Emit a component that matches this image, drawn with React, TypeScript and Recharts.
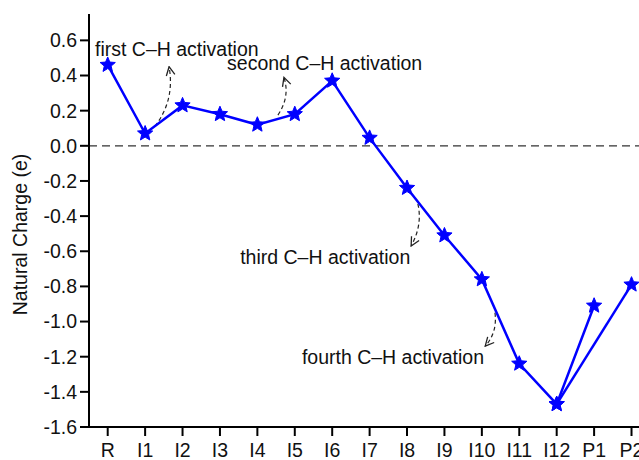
import { CartesianGrid, Customized, Line, LineChart, ReferenceLine, XAxis, YAxis } from 'recharts';

const steps = ['R', 'I1', 'I2', 'I3', 'I4', 'I5', 'I6', 'I7', 'I8', 'I9', 'I10', 'I11', 'I12', 'P1', 'P2'];
// main pathway R -> I12 -> P1
const mainCharge = [0.46, 0.07, 0.23, 0.18, 0.12, 0.18, 0.37, 0.045, -0.24, -0.51, -0.76, -1.24, -1.47, -0.91];
// branch I12 -> P2
const branchSteps = ['I12', 'P2'];
const branchCharge = [-1.47, -0.79];
const yTicks = [-1.6, -1.4, -1.2, -1.0, -0.8, -0.6, -0.4, -0.2, 0, 0.2, 0.4, 0.6];

const annotations = [
  { text: 'first C\u2013H activation', x: -0.34, y: 0.55 },
  { text: 'second C\u2013H activation', x: 3.19, y: 0.47 },
  { text: 'third C\u2013H activation', x: 3.54, y: -0.63 },
  { text: 'fourth C\u2013H activation', x: 5.19, y: -1.2 },
];
// dashed curved arrows: start, control, tip (data units)
const arrows = [
  [[1.26, 0.11], [1.8, 0.26], [1.64, 0.45]],
  [[4.55, 0.175], [4.88, 0.28], [4.71, 0.39]],
  [[8.29, -0.33], [8.42, -0.45], [8.11, -0.57]],
  [[10.35, -0.95], [10.42, -1.06], [10.09, -1.14]],
];

const mainData = mainCharge.map((v, i) => ({ x: i, y: v }));
const branchData = branchSteps.map((s, i) => ({ x: steps.indexOf(s), y: branchCharge[i] }));

const W = 639;
const H = 460;
const margin = { top: 14, right: 0, bottom: 3, left: 0 };
const yAxisWidth = 89;
const xAxisHeight = 30;
const xDomain: [number, number] = [-0.5, 14.2];
const yDomain: [number, number] = [-1.6, 0.75];
const font = '"Liberation Sans", Arial, sans-serif';
const fontSize = 19.5;

const plotLeft = margin.left + yAxisWidth;
const plotRight = W - margin.right;
const plotTop = margin.top;
const plotBottom = H - margin.bottom - xAxisHeight;
const px = (x: number) => plotLeft + ((x - xDomain[0]) / (xDomain[1] - xDomain[0])) * (plotRight - plotLeft);
const py = (y: number) => plotTop + ((yDomain[1] - y) / (yDomain[1] - yDomain[0])) * (plotBottom - plotTop);

function Star(props: any) {
  const { cx, cy, index } = props;
  if (cx == null || cy == null) return <g key={index} />;
  const outer = 8;
  const inner = 3.6;
  const pts: string[] = [];
  for (let k = 0; k < 10; k++) {
    const r = k % 2 === 0 ? outer : inner;
    const a = -Math.PI / 2 + (k * Math.PI) / 5;
    pts.push(`${cx + r * Math.cos(a)},${cy + r * Math.sin(a)}`);
  }
  return <polygon key={index} points={pts.join(' ')} fill="#0000ff" stroke="#0000ff" strokeWidth={1} />;
}

function Annotations() {
  const labelY = (plotTop + plotBottom) / 2 + 14;
  return (
    <g>
      <defs>
        <marker id="openArrow" viewBox="0 0 10 10" refX="9" refY="5" markerWidth="9" markerHeight="9" orient="auto">
          <path d="M1,1 L9,5 L1,9" fill="none" stroke="#222" strokeWidth={1.2} />
        </marker>
      </defs>
      {arrows.map(([s, c, t], i) => (
        <path
          key={i}
          d={`M${px(s[0])},${py(s[1])} Q${px(c[0])},${py(c[1])} ${px(t[0])},${py(t[1])}`}
          fill="none"
          stroke="#222"
          strokeWidth={1.2}
          strokeDasharray="4 3"
          markerEnd="url(#openArrow)"
        />
      ))}
      {annotations.map((a) => (
        <text
          key={a.text}
          x={px(a.x)}
          y={py(a.y)}
          dominantBaseline="central"
          fontFamily={font}
          fontSize={fontSize}
          fill="#111"
        >
          {a.text}
        </text>
      ))}
      <text
        x={20}
        y={labelY}
        transform={`rotate(-90 20 ${labelY})`}
        textAnchor="middle"
        dominantBaseline="central"
        fontFamily={font}
        fontSize={fontSize}
        fill="#111"
      >
        Natural Charge (e)
      </text>
    </g>
  );
}

export default function App() {
  return (
    <div style={{ position: 'absolute', left: 0, top: 0, width: W, height: H, background: '#fff', overflow: 'hidden' }}>
      <LineChart width={W} height={H} margin={margin}>
        <CartesianGrid stroke="none" />
        <XAxis
          type="number"
          dataKey="x"
          domain={xDomain}
          allowDataOverflow
          height={xAxisHeight}
          ticks={steps.map((_, i) => i)}
          interval={0}
          tickFormatter={(v: number) => steps[v] ?? ''}
          stroke="#000"
          strokeWidth={2}
          tickSize={9}
          tickMargin={7}
          tick={{ fill: '#111', fontSize, fontFamily: font }}
        />
        <YAxis
          type="number"
          dataKey="y"
          domain={yDomain}
          allowDataOverflow
          ticks={yTicks}
          interval={0}
          width={yAxisWidth}
          tickFormatter={(v: number) => v.toFixed(1)}
          stroke="#000"
          strokeWidth={2}
          tickSize={9}
          tickMargin={3}
          tick={{ fill: '#111', fontSize, fontFamily: font }}
        />
        <ReferenceLine y={0} stroke="#333" strokeWidth={1.3} strokeDasharray="8 5" />
        <Line
          data={mainData}
          dataKey="y"
          type="linear"
          stroke="#0000ff"
          strokeWidth={2.5}
          dot={Star}
          activeDot={false}
          isAnimationActive={false}
        />
        <Line
          data={branchData}
          dataKey="y"
          type="linear"
          stroke="#0000ff"
          strokeWidth={2.5}
          dot={Star}
          activeDot={false}
          isAnimationActive={false}
        />
        <Customized component={Annotations} />
      </LineChart>
    </div>
  );
}
